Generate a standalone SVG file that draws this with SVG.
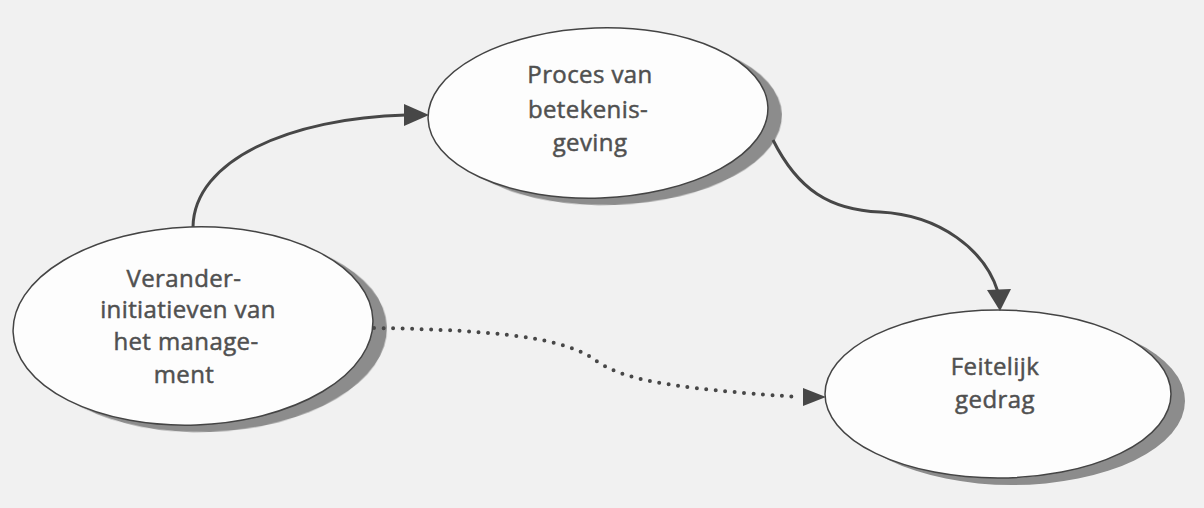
<svg xmlns="http://www.w3.org/2000/svg" width="1204" height="508" viewBox="0 0 1204 508">
<style>
.shadow{fill:#8c8c8c;}
.node{fill:#fdfdfd;stroke:#444;stroke-width:1.5;}
.label{font-family:"Open Sans","Noto Sans",sans-serif;font-size:24px;font-weight:400;fill:#505050;stroke:#505050;stroke-width:0.5;letter-spacing:0.4px;text-anchor:middle;}
.edge{fill:none;stroke:#474747;stroke-width:3;}
.dotted{fill:none;stroke:#474747;stroke-width:4;stroke-linecap:round;stroke-dasharray:0 9.5;}
.head{fill:#474747;}
</style>
<defs>
<filter id="soft" x="-10%" y="-10%" width="120%" height="120%"><feGaussianBlur stdDeviation="0.7"/></filter>
</defs>
<rect width="1204" height="508" fill="#f1f1f1"/>
<g id="node-proces">
<ellipse class="shadow" filter="url(#soft)" cx="612" cy="120" rx="170" ry="85" transform="rotate(-2 612 120)"/>
<ellipse class="node" cx="598" cy="113" rx="170" ry="85" transform="rotate(-2 598 113)"/>
<text class="label" x="590" y="83">Proces van</text>
<text class="label" x="588" y="118">betekenis-</text>
<text class="label" x="590" y="151">geving</text>
</g>
<g id="node-verander">
<ellipse class="shadow" filter="url(#soft)" cx="207" cy="333" rx="180" ry="99" transform="rotate(-2 207 333)"/>
<ellipse class="node" cx="193" cy="326" rx="180" ry="99" transform="rotate(-2 193 326)"/>
<text class="label" x="184" y="287">Verander-</text>
<text class="label" x="188" y="318">initiatieven van</text>
<text class="label" x="186" y="350">het manage-</text>
<text class="label" x="184" y="383">ment</text>
</g>
<g id="node-feitelijk">
<ellipse class="shadow" filter="url(#soft)" cx="1012" cy="401" rx="173" ry="84"/>
<ellipse class="node" cx="998" cy="394" rx="173" ry="84"/>
<text class="label" x="995" y="375">Feitelijk</text>
<text class="label" x="995" y="408">gedrag</text>
</g>
<g id="connectors">
<path class="edge" d="M193,227 C194,160 290,118 406,115"/>
<path class="head" d="M404,104 L429,115 L404,126 Z"/>
<path class="edge" d="M773,140 C798,190 830,210 880,212 C940,215 985,250 998,292"/>
<path class="head" d="M987,290 L1000,311 L1011,289 Z"/>
<path class="dotted" d="M374,328 C500,330 565,338 595,360 C620,378 660,388 800,397"/>
<path class="head" d="M803,388 L826,397 L803,406 Z"/>
</g>
</svg>
